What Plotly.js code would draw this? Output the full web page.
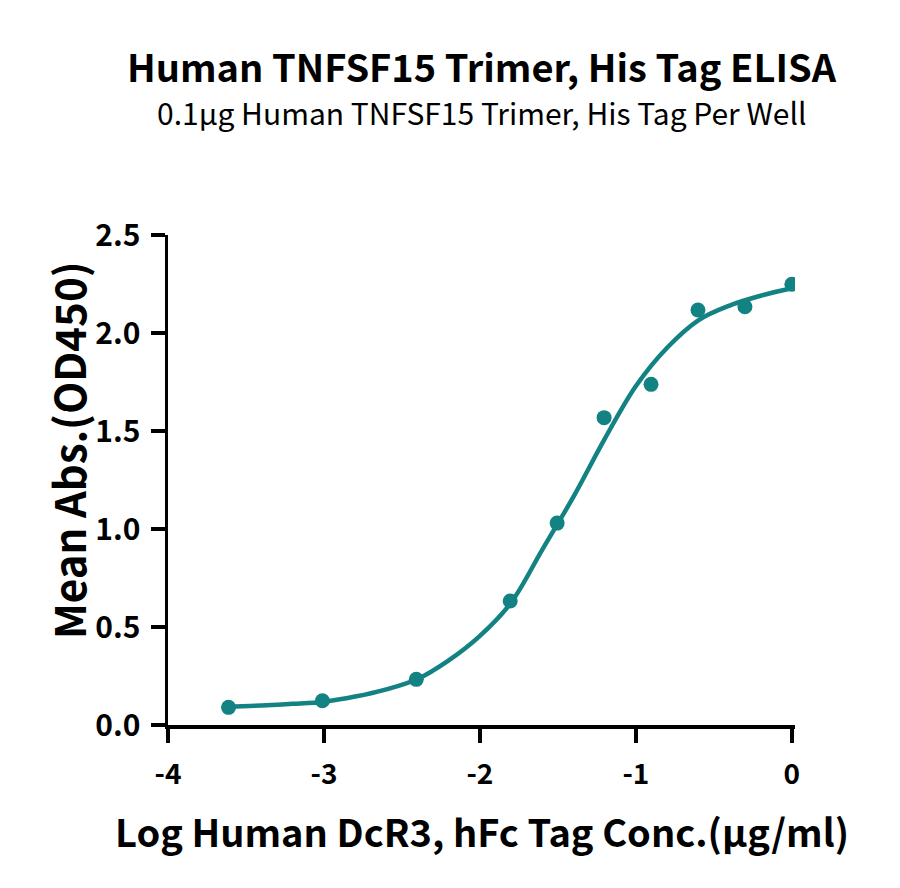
<!DOCTYPE html>
<html>
<head>
<meta charset="utf-8">
<script src="https://cdn.plot.ly/plotly-3.0.1.min.js"></script>
<style>
  body { margin: 0; background: #fff; }
  #chart { width: 900px; height: 888px; }
</style>
</head>
<body>
<div id="chart"></div>
<script>
// measured points (log conc vs mean OD450)
var logConc = [-3.612, -3.010, -2.408, -1.806, -1.505, -1.204, -0.903, -0.602, -0.301, 0];
var meanAbs = [0.09, 0.124, 0.233, 0.633, 1.03, 1.568, 1.738, 2.117, 2.134, 2.249];

// fitted curve
var fitX = [-3.61, -3.4, -3.2, -3.0, -2.8, -2.6, -2.4, -2.2, -2.0, -1.8, -1.6, -1.4, -1.2, -1.0, -0.8, -0.6, -0.4, -0.2, 0];
var fitY = [0.093, 0.10, 0.108, 0.119, 0.145, 0.182, 0.235, 0.33, 0.455, 0.625, 0.895, 1.165, 1.46, 1.73, 1.925, 2.065, 2.14, 2.19, 2.228];

var xTicks = [-4, -3, -2, -1, 0];
var yTicks = [0, 0.5, 1.0, 1.5, 2.0, 2.5];
var yTickText = ["0.0", "0.5", "1.0", "1.5", "2.0", "2.5"];

var teal = "#138282";
var fontFam = "'Noto Sans CJK SC', 'Source Sans Pro', 'Noto Sans', sans-serif";

var fitTrace = {
  x: fitX,
  y: fitY,
  type: "scatter",
  mode: "lines",
  line: { color: teal, width: 4.5, shape: "spline", smoothing: 1 },
  hoverinfo: "skip"
};

var pointTrace = {
  x: logConc,
  y: meanAbs,
  type: "scatter",
  mode: "markers",
  marker: { color: teal, size: 15 }
};

var layout = {
  width: 900,
  height: 888,
  showlegend: false,
  paper_bgcolor: "#fff",
  plot_bgcolor: "#fff",
  font: { family: fontFam, color: "#000" },
  margin: { l: 168, r: 105, t: 235, b: 163 },
  xaxis: {
    range: [-4, 0.02],
    tickvals: xTicks,
    ticktext: xTicks.map(String),
    showgrid: false,
    zeroline: false,
    showline: true,
    linecolor: "#000",
    linewidth: 3.5,
    ticks: "outside",
    ticklen: 14,
    tickwidth: 3.5,
    tickcolor: "#000",
    tickfont: { size: 28, weight: "bold", family: fontFam },
    ticklabelstandoff: 8
  },
  yaxis: {
    range: [0, 2.5],
    tickvals: yTicks,
    ticktext: yTickText,
    showgrid: false,
    zeroline: false,
    showline: true,
    linecolor: "#000",
    linewidth: 3.5,
    ticks: "outside",
    ticklen: 14,
    tickwidth: 3.5,
    tickcolor: "#000",
    tickfont: { size: 30, weight: "bold", family: fontFam },
    ticklabelstandoff: 4
  },
  annotations: [
    {
      // main title
      xref: "paper", yref: "paper",
      x: 0.5, y: 1, yshift: 170,
      xanchor: "center", yanchor: "middle",
      text: "<b>Human TNFSF15 Trimer, His Tag ELISA</b>",
      font: { size: 38, family: fontFam },
      showarrow: false
    },
    {
      // subtitle
      xref: "paper", yref: "paper",
      x: 0.5, y: 1, yshift: 123,
      xanchor: "center", yanchor: "middle",
      text: "0.1μg Human TNFSF15 Trimer, His Tag Per Well",
      font: { size: 30, family: fontFam },
      showarrow: false
    },
    {
      // x axis title
      xref: "paper", yref: "paper",
      x: 0.5, y: 0, yshift: -105,
      xanchor: "center", yanchor: "middle",
      text: "<b>Log Human DcR3, hFc Tag Conc.(μg/ml)</b>",
      font: { size: 38, family: fontFam },
      showarrow: false
    },
    {
      // y axis title
      xref: "paper", yref: "paper",
      x: 0, xshift: -101, y: 0.5, yshift: 30,
      xanchor: "center", yanchor: "middle",
      textangle: -90,
      text: "<b>Mean Abs.(OD450)</b>",
      font: { size: 42, family: fontFam },
      showarrow: false
    }
  ]
};

Plotly.newPlot("chart", [fitTrace, pointTrace], layout, { displayModeBar: false, staticPlot: true });
</script>
</body>
</html>
